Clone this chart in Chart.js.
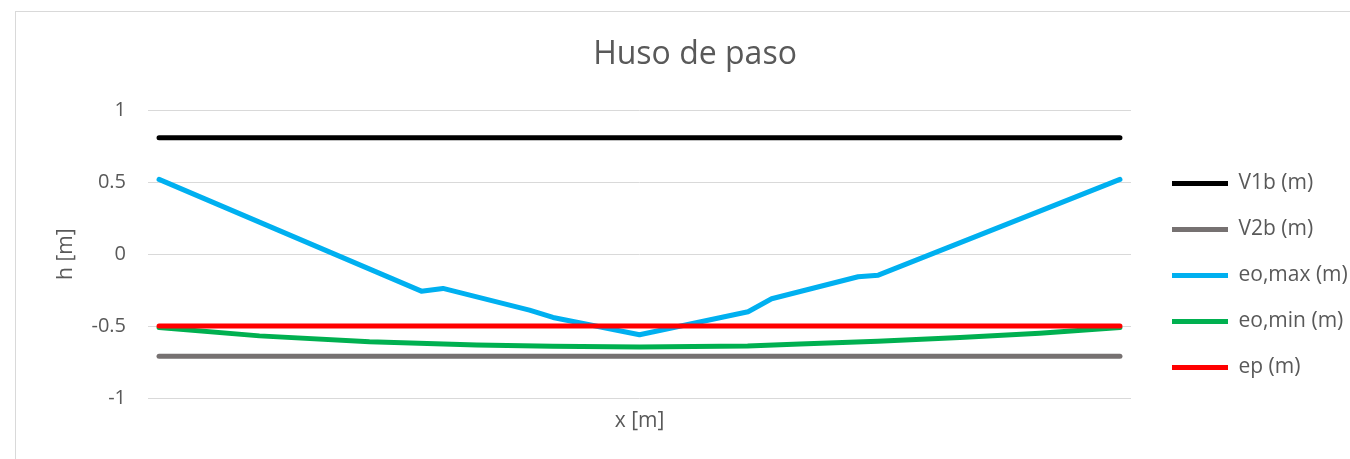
<!DOCTYPE html>
<html>
<head>
<meta charset="utf-8">
<script src="https://cdn.jsdelivr.net/npm/chart.js@4.4.1/dist/chart.umd.min.js"></script>
<style>
  html, body { margin: 0; padding: 0; background: #fff; }
  .frame {
    position: absolute; left: 15px; top: 11px; width: 1400px; height: 500px;
    border-left: 1px solid #d9d9d9; border-top: 1px solid #d9d9d9;
  }
  .chart-view { position: absolute; left: 0; top: 0; width: 1350px; height: 459px; }
</style>
</head>
<body>
<div class="frame"></div>
<div class="chart-view"><canvas class="chart"></canvas></div>
<script>
// x [m] positions of the points
const xEnds = [0, 200];
const xMax = [0, 54.6, 59.1, 77.1, 82.0, 100.0, 122.6, 127.5, 145.5, 149.7, 200];
const xMin = [0, 20.9, 43.8, 66.1, 81.9, 100.0, 122.5, 133.4, 149.6, 166.7, 183.3, 200];

// h [m] values
const v1b = [0.81, 0.81];
const v2b = [-0.71, -0.71];
const eoMax = [0.52, -0.257, -0.238, -0.389, -0.44, -0.56, -0.40, -0.31, -0.157, -0.146, 0.52];
const eoMin = [-0.51, -0.568, -0.609, -0.632, -0.640, -0.646, -0.638, -0.625, -0.605, -0.58, -0.55, -0.51];
const ep = [-0.5, -0.5];

const yTicks = [-1, -0.5, 0, 0.5, 1];

const toPoints = (xs, ys) => xs.map((x, i) => ({ x, y: ys[i] }));

const FONT = `'Open Sans', sans-serif`;
const TEXT = '#595959';

Chart.defaults.font.family = FONT;
Chart.defaults.color = TEXT;

const line = (label, data, color) => ({
  label,
  data,
  borderColor: color,
  backgroundColor: color,
  borderWidth: 5,
  borderCapStyle: 'round',
  borderJoinStyle: 'round',
  pointRadius: 0,
  tension: 0,
});

// Fixed legend width so the plot ends where it does in the Excel chart,
// then nudge the legend a bit to the right and down
const legendPlace = {
  id: 'legendPlace',
  beforeInit(chart) {
    const originalFit = chart.legend.fit;
    chart.legend.fit = function fit() {
      originalFit.bind(chart.legend)();
      this.width = 219;
    };
  },
  afterLayout(chart) {
    const lg = chart.legend;
    lg.left += 16;
    lg.right += 16;
    lg.top += 46;
    lg.bottom += 46;
  },
};

const canvas = document.querySelector('.chart');
const chart = new Chart(canvas, {
  type: 'line',
  data: {
    // reversed so that ep is drawn on top; legend is reversed back
    datasets: [
      line('ep (m)', toPoints(xEnds, ep), '#FF0000'),
      line('eo,min (m)', toPoints(xMin, eoMin), '#00B050'),
      line('eo,max (m)', toPoints(xMax, eoMax), '#00B0F0'),
      line('V2b (m)', toPoints(xEnds, v2b), '#767171'),
      line('V1b (m)', toPoints(xEnds, v1b), '#000000'),
    ],
  },
  plugins: [legendPlace],
  options: {
    responsive: true,
    maintainAspectRatio: false,
    animation: false,
    layout: { padding: { left: 40, right: 0, top: 0, bottom: 0 } },
    plugins: {
      tooltip: { enabled: false },
      title: {
        display: true,
        text: 'Huso de paso',
        color: TEXT,
        font: { size: 32, weight: 'normal' },
        padding: { top: 36, bottom: 36 },
      },
      legend: {
        display: true,
        position: 'right',
        reverse: true,
        labels: {
          usePointStyle: true,
          pointStyle: 'line',
          pointStyleWidth: 56,
          boxHeight: 5,
          padding: 25,
          color: TEXT,
          font: { size: 21 },
        },
      },
    },
    scales: {
      x: {
        type: 'linear',
        min: -2.3,
        max: 202.3,
        grid: { display: false, drawTicks: false },
        border: { display: false },
        ticks: { display: false },
        title: {
          display: true,
          text: 'x [m]',
          color: TEXT,
          font: { size: 21 },
          padding: { top: 0, bottom: 25 },
        },
        afterFit(scale) {
          scale.height = 61;
        },
      },
      y: {
        min: -1,
        max: 1,
        afterBuildTicks(scale) {
          scale.ticks = yTicks.map((v) => ({ value: v }));
        },
        grid: { color: '#d9d9d9', lineWidth: 1, drawTicks: false },
        border: { display: false },
        ticks: {
          padding: 22,
          color: TEXT,
          font: { size: 20 },
          callback: (value) => String(value),
        },
        title: {
          display: true,
          text: 'h [m]',
          color: TEXT,
          font: { size: 21 },
          padding: { top: 13, bottom: 0 },
        },
        afterFit(scale) {
          scale.width = 108;
        },
      },
    },
  },
});
</script>
</body>
</html>
